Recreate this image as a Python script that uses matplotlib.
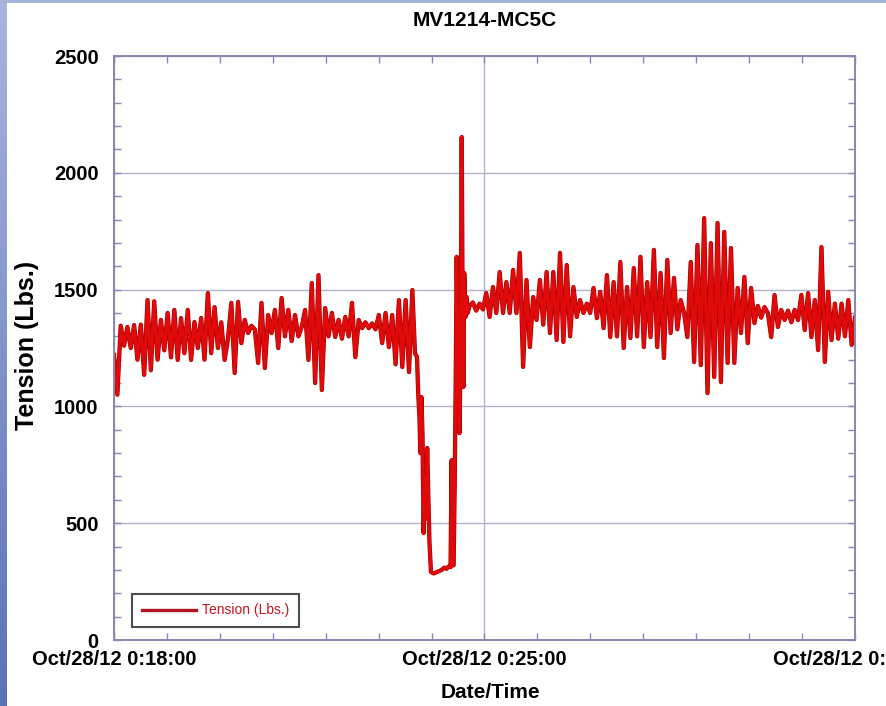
import datetime as dt

import matplotlib
import matplotlib.pyplot as plt
import matplotlib.dates as mdates
import matplotlib.patheffects as pe
import numpy as np
from matplotlib.colors import LinearSegmentedColormap
from matplotlib.patches import Rectangle
from matplotlib.ticker import FixedLocator, MultipleLocator

matplotlib.use("Agg")

TITLE = "MV1214-MC5C"
Y_LABEL = "Tension (Lbs.)"
X_LABEL = "Date/Time"
SERIES_NAME = "Tension (Lbs.)"

START = dt.datetime(2012, 10, 28, 0, 18, 0)
END = dt.datetime(2012, 10, 28, 0, 32, 0)
MAJOR_TIMES = [
    dt.datetime(2012, 10, 28, 0, 18, 0),
    dt.datetime(2012, 10, 28, 0, 25, 0),
    dt.datetime(2012, 10, 28, 0, 32, 0),
]
STEP_SEC = 3.8

# before the dip: one reading every STEP_SEC seconds from 0:18:00
tension_before = [
    1220, 1050, 1345, 1260, 1340, 1250, 1348, 1200, 1350, 1135,
    1455, 1155, 1450, 1200, 1370, 1240, 1400, 1210, 1413, 1199,
    1378, 1228, 1413, 1199, 1361, 1250, 1378, 1200, 1485, 1228,
    1425, 1250, 1360, 1199, 1290, 1443, 1143, 1447, 1271, 1370,
    1314, 1345, 1330, 1186, 1443, 1164, 1391, 1314, 1413, 1250,
    1464, 1300, 1413, 1280, 1391, 1300, 1340, 1413, 1199, 1528,
    1100, 1562, 1070, 1421, 1300, 1400, 1297, 1370, 1290, 1383,
    1300, 1443, 1211, 1370, 1335, 1360, 1335, 1355, 1330, 1391,
    1271, 1400, 1254, 1391, 1180, 1455, 1169, 1455, 1147, 1498,
]

# the dip and the snap (seconds after 0:18:00)
dip_sec = [
    341.2, 343.5, 344.9, 346.2, 347.4, 348.5, 349.7, 351.0, 352.3, 353.6,
    355.0, 356.4, 357.6, 359.3, 362.5, 365.5, 368.5, 371.5, 374.5, 377.0,
    379.5, 381.5, 382.8, 383.8, 385.0, 386.3, 387.3, 388.5, 389.7, 391.7,
    393.0, 394.2, 395.2, 396.0, 397.0, 398.5, 399.8, 401.0,
]
dip_tension = [
    1228, 1211, 1050, 960, 800, 1040, 880, 458, 700, 520,
    822, 600, 420, 291, 285, 290, 295, 300, 310, 305,
    315, 312, 770, 320, 320, 700, 1083, 1640, 1250, 886,
    1300, 2153, 1400, 1083, 1571, 1383, 1468, 1400,
]

# after the dip: one reading every STEP_SEC seconds from AFTER_START_SEC
AFTER_START_SEC = 403
tension_after = [
    1430, 1445, 1410, 1440, 1415, 1485, 1383, 1511, 1400, 1575,
    1400, 1532, 1400, 1584, 1400, 1657, 1169, 1541, 1254, 1468,
    1370, 1541, 1350, 1575, 1314, 1575, 1284, 1657, 1276, 1605,
    1300, 1511, 1383, 1455, 1400, 1440, 1400, 1507, 1378, 1490,
    1335, 1562, 1297, 1532, 1300, 1618, 1250, 1511, 1293, 1592,
    1300, 1640, 1254, 1532, 1297, 1670, 1254, 1571, 1207, 1627,
    1314, 1550, 1330, 1455, 1400, 1297, 1618, 1190, 1691, 1177,
    1806, 1057, 1699, 1126, 1785, 1104, 1747, 1186, 1678, 1186,
    1507, 1314, 1554, 1271, 1507, 1357, 1430, 1380, 1425, 1400,
    1297, 1477, 1340, 1413, 1370, 1410, 1360, 1413, 1370, 1477,
    1327, 1485, 1297, 1455, 1241, 1682, 1190, 1490, 1284, 1440,
    1290, 1440, 1300, 1455, 1263, 1380,
]

LINE_RED = "#e00a0a"
DARK_RED = "#a00000"
AXIS_COLOR = "#8888b0"
GRID_COLOR = "#b2b2cc"


def build_series():
    before_sec = np.arange(len(tension_before)) * STEP_SEC
    after_sec = AFTER_START_SEC + np.arange(len(tension_after)) * STEP_SEC
    seconds = np.concatenate([before_sec, dip_sec, after_sec])
    values = np.concatenate([tension_before, dip_tension, tension_after])
    times = [START + dt.timedelta(seconds=float(s)) for s in seconds]
    return mdates.date2num(times), values


def time_label(x, pos=None):
    d = mdates.num2date(x)
    return f"{d:%b/%d/%y} {d.hour}:{d:%M:%S}"


def main():
    plt.rcParams["font.family"] = ["Liberation Sans", "DejaVu Sans"]

    fig = plt.figure(figsize=(8.86, 7.06), dpi=100)
    fig.patch.set_facecolor("white")

    # slide background peeking in at the left and top edges
    strip = fig.add_axes([0, 0, 7 / 886, 1])
    cmap = LinearSegmentedColormap.from_list("slide", ["#a8b5dc", "#5a72b6"])
    strip.imshow(np.linspace(0, 1, 100).reshape(-1, 1), aspect="auto", cmap=cmap)
    strip.axis("off")
    fig.add_artist(Rectangle((0, 1 - 3 / 706), 1, 3 / 706,
                             transform=fig.transFigure, color="#a6b3da", lw=0))

    ax = fig.add_axes([114 / 886, 66 / 706, 741 / 886, 584 / 706])
    x, y = build_series()

    ax.plot(x, y, color=LINE_RED, lw=2.3, label=SERIES_NAME,
            path_effects=[pe.Stroke(linewidth=3.1, foreground=DARK_RED), pe.Normal()])

    ax.set_xlim(mdates.date2num(START), mdates.date2num(END))
    ax.set_ylim(0, 2500)

    ax.xaxis.set_major_locator(FixedLocator(mdates.date2num(MAJOR_TIMES)))
    ax.xaxis.set_major_formatter(time_label)
    ax.xaxis.set_minor_locator(mdates.MinuteLocator(interval=1))
    ax.yaxis.set_major_locator(MultipleLocator(500))
    ax.yaxis.set_minor_locator(MultipleLocator(100))

    ax.grid(True, which="major", color=GRID_COLOR, lw=1.0)
    ax.set_axisbelow(True)
    for s in ax.spines.values():
        s.set_color(AXIS_COLOR)
        s.set_linewidth(1.4)

    ax.tick_params(which="both", direction="in", color=AXIS_COLOR,
                   top=True, right=True, width=1.0, length=5)
    ax.tick_params(axis="y", labelsize=14.5, pad=11)
    ax.tick_params(axis="x", labelsize=14.5, pad=7)
    for lab in ax.get_xticklabels() + ax.get_yticklabels():
        lab.set_fontweight("bold")
    ax.get_yticklabels()[0].set_verticalalignment("bottom")

    fig.text(484.5 / 886, 1 - 20 / 706, TITLE, ha="center", va="center",
             fontsize=15, fontweight="bold")
    fig.text(490 / 886, 1 - 693 / 706, X_LABEL, ha="center", va="center",
             fontsize=15, fontweight="bold")
    fig.text(27 / 886, 1 - 345 / 706, Y_LABEL, ha="center", va="center",
             rotation=90, fontsize=18, fontweight="bold")

    leg = ax.legend(loc="lower left", bbox_to_anchor=(0.024, 0.022), borderaxespad=0,
                    fancybox=False, edgecolor="#222222", fontsize=10,
                    handlelength=3.9, handletextpad=0.45, borderpad=0.7,
                    labelcolor="#c8141e")
    leg.get_frame().set_linewidth(1.5)
    for h in leg.get_lines():
        h.set_path_effects([])
        h.set_color("#b01420")
        h.set_linewidth(2.4)

    fig.savefig("out.png", dpi=100)
    plt.close(fig)


if __name__ == "__main__":
    main()
